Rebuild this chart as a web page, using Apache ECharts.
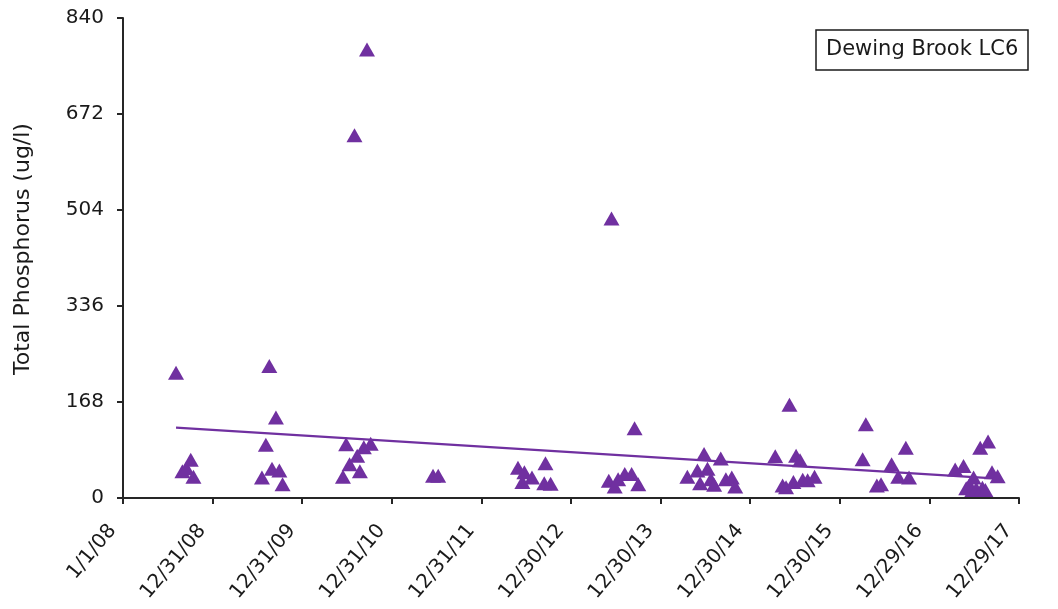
<!DOCTYPE html>
<html><head><meta charset="utf-8">
<script src="https://cdn.jsdelivr.net/npm/echarts/dist/echarts.min.js"></script>
<style>html,body{margin:0;padding:0;background:#fff}#c{width:1058px;height:609px}</style>
</head><body><div id="c"></div>
<script>
// ---- data ----
const stationName = 'Dewing Brook LC6';
const yAxisTitle = 'Total Phosphorus (ug/l)';
const sampleDates = [
 '2008-08-04','2008-08-30','2008-09-16','2008-10-03','2008-10-14',
 '2009-07-20','2009-08-05','2009-08-19','2009-08-30','2009-09-15','2009-09-29','2009-10-12',
 '2010-06-15','2010-06-28','2010-07-12','2010-08-01','2010-08-12','2010-08-23','2010-09-08','2010-09-21','2010-10-06',
 '2011-06-17','2011-07-08',
 '2012-05-28','2012-06-15','2012-06-23','2012-07-24','2012-09-12','2012-09-17','2012-10-08',
 '2013-06-02','2013-06-13','2013-06-26','2013-07-10','2013-08-06','2013-09-03','2013-09-15','2013-09-30',
 '2014-04-18','2014-05-29','2014-06-09','2014-06-25','2014-07-09','2014-07-23','2014-08-05','2014-09-01','2014-09-22','2014-10-16','2014-10-30',
 '2015-04-11','2015-05-11','2015-05-25','2015-06-08','2015-06-24','2015-07-05','2015-07-21','2015-08-01','2015-08-21','2015-09-18',
 '2016-04-01','2016-04-14','2016-05-29','2016-06-15','2016-07-28','2016-08-24','2016-09-24','2016-10-07',
 '2017-04-13','2017-05-17','2017-05-28','2017-06-09','2017-06-22','2017-06-27','2017-07-08','2017-07-24','2017-08-02','2017-08-14','2017-08-25','2017-09-10','2017-10-03'
];
const tpValues = [
 219,47,52,67,37,
 36,93,231,51,141,48,24,
 37,94,59,635,74,47,89,785,95,
 39,39,
 53,28,45,36,26,61,25,
 30,489,20,33,42,42,122,24,
 37,48,26,77,51,33,23,69,33,36,20,
 73,22,19,163,28,74,66,32,31,37,
 68,129,22,24,59,37,88,36,
 50,56,17,22,14,36,16,88,18,14,99,45,38
];
const trendDates = ['2008-08-04','2017-10-03'];
const trendValues = [123, 34];
const xStart = '2008-01-01';
const xTickDays = 365;
const xTickCount = 10;
const yMax = 840;
const yStep = 168;

// ---- helpers ----
const DAY = 86400000;
function toMs(s){const p=s.split('-').map(Number);return Date.UTC(p[0],p[1]-1,p[2]);}
function fmt(v){const d=new Date(v);return (d.getUTCMonth()+1)+'/'+d.getUTCDate()+'/'+String(d.getUTCFullYear()).slice(2);}
const xMin = toMs(xStart);
const xMax = xMin + xTickCount*xTickDays*DAY;
const points = sampleDates.map((d,i)=>[toMs(d), tpValues[i]]);
const trend = trendDates.map((d,i)=>[toMs(d), trendValues[i]]);

const FONT = 'DejaVu Sans';
const PURPLE = '#7030A0';
const AXIS = '#262626';

const chart = echarts.init(document.getElementById('c'), null, {renderer:'canvas'});
chart.setOption({
  animation:false,
  backgroundColor:'#fff',
  title:{
    text: stationName, left: 816, top: 30,
    borderColor:'#1a1a1a', borderWidth:1.5, padding:[9,10,9,10],
    textStyle:{fontFamily:FONT, fontSize:21, fontWeight:'normal', color:'#1a1a1a', lineHeight:22}
  },
  grid:{left:123, right:39, top:18, bottom:111, containLabel:false, outerBoundsMode:'none'},
  xAxis:{
    type:'value', min:xMin, max:xMax, interval:xTickDays*DAY,
    axisLine:{show:true, lineStyle:{color:AXIS, width:2}},
    axisTick:{show:true, inside:false, length:6, lineStyle:{color:AXIS, width:2}},
    splitLine:{show:false},
    axisLabel:{rotate:50, margin:17, padding:[0,16,0,0], formatter:fmt, showMinLabel:true, showMaxLabel:true,
      fontFamily:FONT, fontSize:20, color:'#1a1a1a'}
  },
  yAxis:{
    type:'value', min:0, max:yMax, interval:yStep,
    name: yAxisTitle, nameLocation:'middle', nameGap:89,
    nameTextStyle:{fontFamily:FONT, fontSize:22, color:'#1a1a1a', padding:[0,0,0,18]},
    axisLine:{show:true, lineStyle:{color:AXIS, width:2}},
    axisTick:{show:true, inside:false, length:6, lineStyle:{color:AXIS, width:2}},
    splitLine:{show:false},
    axisLabel:{margin:19, fontFamily:FONT, fontSize:20, color:'#1a1a1a'}
  },
  series:[
    {
      name:stationName, type:'scatter', data:points,
      symbol:'triangle', symbolSize:[16,14],
      itemStyle:{color:PURPLE, opacity:1}, z:3
    },
    {
      name:'trend', type:'line', data:trend, symbol:'none',
      lineStyle:{color:PURPLE, width:2.2}, z:2
    }
  ]
});
</script></body></html>
